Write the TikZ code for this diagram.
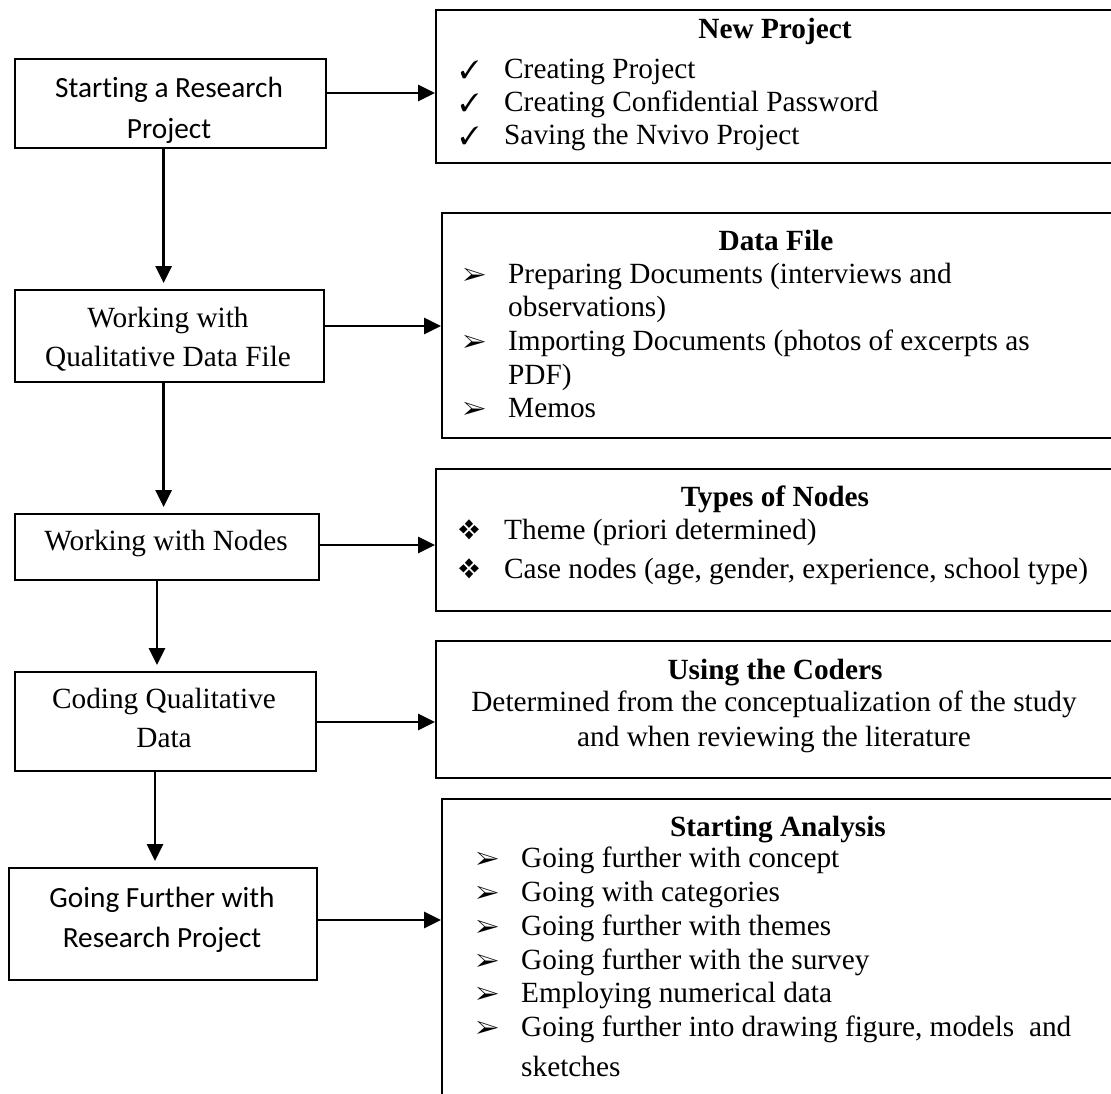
\documentclass[tikz,border=0pt]{standalone}
\usepackage{fontspec}
\setmainfont{Liberation Serif}
\newfontfamily\calibri[Ligatures=NoCommon]{Carlito}
\usepackage{pifont}
\usetikzlibrary{arrows.meta}

\begin{document}
\begin{tikzpicture}[x=1pt,y=-1pt,
  box/.style={draw, line width=2.3pt, inner sep=0pt, anchor=north west},
  arr/.style={line width=2.8pt, -{Triangle[length=17pt,width=16pt]}},
  down/.style={arr, shorten >=6pt},
  txt/.style={inner sep=0pt, anchor=base, font=\fontsize{29.3}{33.6}\selectfont},
  stxt/.style={txt, font=\fontsize{29.3}{33.6}\calibri},
  ttl/.style={txt, font=\fontsize{29.3}{33.6}\selectfont\bfseries},
  itm/.style={inner sep=0pt, anchor=base west, font=\fontsize{29.3}{33.6}\selectfont},
  chk/.style={inner sep=0pt, anchor=base west, font=\fontsize{25}{25}\selectfont},
  arh/.style={inner sep=0pt, anchor=base west, font=\fontsize{25}{25}\selectfont},
  dia/.style={inner sep=0pt, anchor=base west, font=\fontsize{28}{28}\selectfont},
]
\useasboundingbox (0,0) rectangle (1111,1093);
\clip (0,0) rectangle (1111,1093);

% left column: process steps
\node[box, minimum width=311.4pt, minimum height=89pt]  (b1) at (13.6,58)  {};
\node[box, minimum width=309.4pt, minimum height=92pt]  (b2) at (13.6,289) {};
\node[box, minimum width=304.4pt, minimum height=66pt]  (b3) at (13.6,513) {};
\node[box, minimum width=301.4pt, minimum height=99pt]  (b4) at (13.6,671) {};
\node[box, minimum width=308pt,   minimum height=112pt] (b5) at (8,867)    {};

\node[stxt] (b1a) at (169,97)  {Starting a Research};
\node[stxt] (b1b) at (169,138) {Project};
\node[txt]  (b2a) at (168,327) {Working with};
\node[txt]  (b2b) at (168,366) {Qualitative Data File};
\node[txt]  (b3a) at (166,550) {Working with Nodes};
\node[txt]  (b4a) at (164,708) {Coding Qualitative};
\node[txt]  (b4b) at (164,747) {Data};
\node[stxt] (b5a) at (162,907) {Going Further with};
\node[stxt] (b5b) at (162,947) {Research Project};

% right column: detail boxes
\node[box, minimum width=681pt, minimum height=153pt] (np) at (435,9)   {};
\node[box, minimum width=675pt, minimum height=225pt] (df) at (441,212) {};
\node[box, minimum width=681pt, minimum height=142pt] (ty) at (435,468) {};
\node[box, minimum width=681pt, minimum height=137pt] (cd) at (435,640) {};
\node[box, minimum width=675pt, minimum height=310pt] (an) at (441,798) {};

% New Project
\node[ttl] (npt) at (775,38) {New Project};
\node[chk] (npc1) at (460,78)  {\ding{51}};
\node[chk] (npc2) at (460,111) {\ding{51}};
\node[chk] (npc3) at (460,144) {\ding{51}};
\node[itm] (np1) at (504,78)  {Creating Project};
\node[itm] (np2) at (504,111) {Creating Confidential Password};
\node[itm] (np3) at (504,144) {Saving the Nvivo Project};

% Data File
\node[ttl] (dft) at (776,250) {Data File};
\node[arh] (dfc1) at (463,283) {\ding{226}};
\node[arh] (dfc2) at (463,350) {\ding{226}};
\node[arh] (dfc3) at (463,417) {\ding{226}};
\node[itm] (df1)  at (508,283) {Preparing Documents (interviews and};
\node[itm] (df1b) at (508,316) {observations)};
\node[itm] (df2)  at (508,350) {Importing Documents (photos of excerpts as};
\node[itm] (df2b) at (508,384) {PDF)};
\node[itm] (df3)  at (508,417) {Memos};

% Types of Nodes
\node[ttl] (tyt) at (775,506) {Types of Nodes};
\node[dia] (tyc1) at (458,539) {\ding{118}};
\node[dia] (tyc2) at (458,578) {\ding{118}};
\node[itm] (ty1) at (504,539) {Theme (priori determined)};
\node[itm] (ty2) at (504,578) {Case nodes (age, gender, experience, school type)};

% Using the Coders
\node[ttl] (cdt) at (775,679) {Using the Coders};
\node[txt] (cd1) at (774,711) {Determined from the conceptualization of the study};
\node[txt] (cd2) at (774,746) {and when reviewing the literature};

% Starting Analysis
\node[ttl] (ant) at (778,836) {Starting Analysis};
\foreach \yy/\nm in {867/1,901/2,935/3,969/4,1002/5,1036/6}
  \node[arh] (anc\nm) at (476,\yy) {\ding{226}};
\node[itm] (an1) at (521,867)  {Going further with concept};
\node[itm] (an2) at (521,901)  {Going with categories};
\node[itm] (an3) at (521,935)  {Going further with themes};
\node[itm] (an4) at (521,969)  {Going further with the survey};
\node[itm] (an5) at (521,1002) {Employing numerical data};
\node[itm] (an6) at (521,1036) {Going further into drawing figure, models\ \ and};
\node[itm] (an6b) at (521,1076) {sketches};

% connector levels
\coordinate (h1) at (0,93);
\coordinate (h2) at (0,326);
\coordinate (h3) at (0,545);
\coordinate (h4) at (0,722);
\coordinate (h5) at (0,920);
\coordinate (v1) at (163.6,0);
\coordinate (v2) at (163.6,0);
\coordinate (v3) at (157,0);
\coordinate (v4) at (155,0);

% step to detail
\draw[arr] (b1.east |- h1) -- (np.west |- h1);
\draw[arr] (b2.east |- h2) -- (df.west |- h2);
\draw[arr] (b3.east |- h3) -- (ty.west |- h3);
\draw[arr] (b4.east |- h4) -- (cd.west |- h4);
\draw[arr] (b5.east |- h5) -- (an.west |- h5);

% step to step
\draw[down] (b1.south -| v1) -- (b2.north -| v1);
\draw[down] (b2.south -| v2) -- (b3.north -| v2);
\draw[down] (b3.south -| v3) -- (b4.north -| v3);
\draw[down] (b4.south -| v4) -- (b5.north -| v4);
\end{tikzpicture}
\end{document}
